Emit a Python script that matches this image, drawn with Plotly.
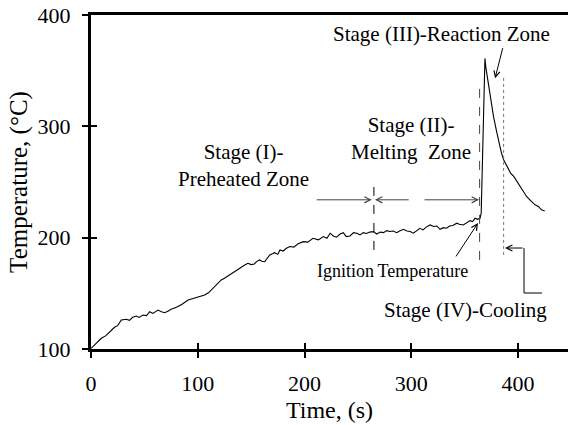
import plotly.graph_objects as go

# ---- data ----
time_s = [0, 4, 9.7, 14, 17.5, 22, 25, 28.4, 33, 36, 39, 42.5, 45, 48.7, 52, 55, 58, 62.8, 66, 69,
          72, 75, 80, 85, 91, 95, 100, 103, 106.5, 110, 112.7, 117, 122, 125, 128.3, 131, 134.6, 138,
          140.8, 144, 147, 150, 153, 155, 158, 160, 162.7, 165, 167.4, 170, 172, 175, 177, 180, 183,
          186.4, 190, 194, 199, 203, 208, 213, 217.6, 221, 224, 227, 230, 233, 236.4, 239, 242.6, 246,
          249, 252, 255, 258, 261, 264.5, 267.6, 271, 274, 277, 280, 283, 286.4, 289, 292.6, 296, 299,
          302, 305, 308, 311, 314, 317.6, 321, 324, 327, 330, 333, 336, 339, 342.6, 345, 348.8, 352,
          355, 357.5, 359.7, 362, 364.4, 365.5, 366.5, 367.5, 368.5, 369, 370, 372, 375, 377, 380, 382,
          384.5, 386.5, 390, 393, 396, 400, 404, 408, 412, 416, 419, 422, 425]
temperature_c = [100.5, 104, 109.6, 112, 115.6, 119.5, 121, 126, 126.7, 125.8, 128.5, 129.6, 128.4,
                 130.5, 130, 133.5, 132, 135, 133.5, 132.6, 134, 135.7, 137.5, 140, 144, 145, 146.4,
                 147.2, 148.5, 150.5, 153, 157, 162, 163.5, 165.6, 167, 169.5, 171.5, 174, 175.5, 177,
                 175.8, 176.4, 178.5, 180, 178.8, 178.4, 182, 184.5, 185.5, 186.5, 185, 189, 188, 190.5,
                 192, 191.5, 194.5, 196.4, 196, 199.4, 198, 201, 199.5, 204, 201.5, 200.4, 203, 204.5,
                 201, 201.5, 204.5, 204, 202.5, 204.5, 203.8, 205, 205.4, 203.3, 205, 204.5, 206.3,
                 205.5, 206, 204.5, 206, 207.5, 206, 205.5, 204, 206.5, 208.4, 207, 209.5, 211.4, 210,
                 210.5, 207.5, 209, 208.5, 210.5, 211, 213, 212, 211.4, 213.5, 215.3, 214.5, 217.4,
                 216.5, 217.4, 222, 262, 322, 356, 361, 352, 340, 320, 309, 295, 285, 276, 270, 263,
                 258, 255, 249, 243, 237, 233, 229.5, 228, 225, 224]

x_ticks = [0, 100, 200, 300, 400]
y_ticks = [100, 200, 300, 400]
x_range = [0, 446.8]
y_range = [100, 400]

FONT = "Times New Roman, Liberation Serif, serif"

fig = go.Figure()
fig.add_trace(go.Scatter(x=time_s, y=temperature_c, mode="lines",
                         line=dict(color="black", width=1.1), showlegend=False,
                         hoverinfo="skip"))
# invisible trace to activate overlay axes (inner half of crossing ticks)
fig.add_trace(go.Scatter(x=[None], y=[None], xaxis="x2", yaxis="y2", showlegend=False))

axis_common = dict(showgrid=False, zeroline=False, linecolor="black", linewidth=3,
                   ticks="outside", ticklen=6, tickwidth=1.5, tickcolor="black",
                   tickfont=dict(family=FONT, size=22, color="black"))

fig.update_layout(
    width=568, height=425,
    margin=dict(l=91, r=0, t=15, b=76),
    paper_bgcolor="white", plot_bgcolor="white",
    font=dict(family=FONT, color="black"),
    xaxis=dict(range=x_range, tickvals=x_ticks, showline=True, mirror=True,
               title=dict(text="Time, (s)", font=dict(family=FONT, size=24), standoff=6),
               ticklabelstandoff=7, **axis_common),
    yaxis=dict(range=y_range, tickvals=y_ticks, showline=True,
               title=dict(text="Temperature, (°C)", font=dict(family=FONT, size=25), standoff=3),
               ticklabelstandoff=7, **axis_common),
    xaxis2=dict(range=x_range, tickvals=x_ticks, overlaying="x", anchor="y2", side="bottom",
                showgrid=False, zeroline=False, showline=False, showticklabels=False,
                ticks="inside", ticklen=6, tickwidth=1.5, tickcolor="black"),
    yaxis2=dict(range=y_range, tickvals=y_ticks, overlaying="y", anchor="x2", side="left",
                showgrid=False, zeroline=False, showline=False, showticklabels=False,
                ticks="inside", ticklen=6, tickwidth=1.5, tickcolor="black"),
)

# dashed stage boundaries
fig.add_shape(type="line", x0=265, x1=265, y0=189, y1=252,
              line=dict(color="black", width=1, dash="dash"))
fig.add_shape(type="line", x0=364, x1=364, y0=180, y1=340,
              line=dict(color="#444", width=1, dash="dash"))
fig.add_shape(type="line", x0=386.5, x1=386.5, y0=184.5, y1=344.5,
              line=dict(color="#777", width=1, dash="dot"))
# cooling elbow connector
fig.add_shape(type="line", x0=422.5, x1=405.6, y0=150.3, y1=150.3,
              line=dict(color="black", width=1))
fig.add_shape(type="line", x0=405.6, x1=405.6, y0=150.3, y1=190.7,
              line=dict(color="black", width=1))


def label(x, y, text, size=21):
    fig.add_annotation(x=x, y=y, xref="x", yref="y", text=text, showarrow=False,
                       font=dict(family=FONT, size=size, color="black"), align="center")


def arrow(x_head, y_head, x_tail, y_tail, color="#444"):
    fig.add_annotation(x=x_head, y=y_head, ax=x_tail, ay=y_tail, xref="x", yref="y",
                       axref="x", ayref="y", text="", showarrow=True, arrowhead=5,
                       arrowsize=1.2, arrowwidth=1, arrowcolor=color)


label(142.5, 265, "Stage (I)-<br>Preheated Zone")
label(300, 288.7, "Stage (II)-<br>Melting\u00a0\u00a0Zone")
label(328, 383, "Stage (III)-Reaction Zone")
label(282, 170, "Ignition\u2009Temperature", size=18)
label(350.4, 135, "Stage (IV)-Cooling")

arrow(263, 234, 210, 234)
arrow(266, 234, 299, 234)
arrow(363.5, 234, 311, 234)
arrow(362.5, 213.2, 341, 181.8, color="black")
arrow(378.5, 343.2, 386, 371.6, color="black")
arrow(387.8, 190.7, 405.6, 190.7, color="black")

fig.write_html("out.html", config={"displayModeBar": False},
               post_script="document.body.style.margin='0px';document.body.style.padding='0px';")
